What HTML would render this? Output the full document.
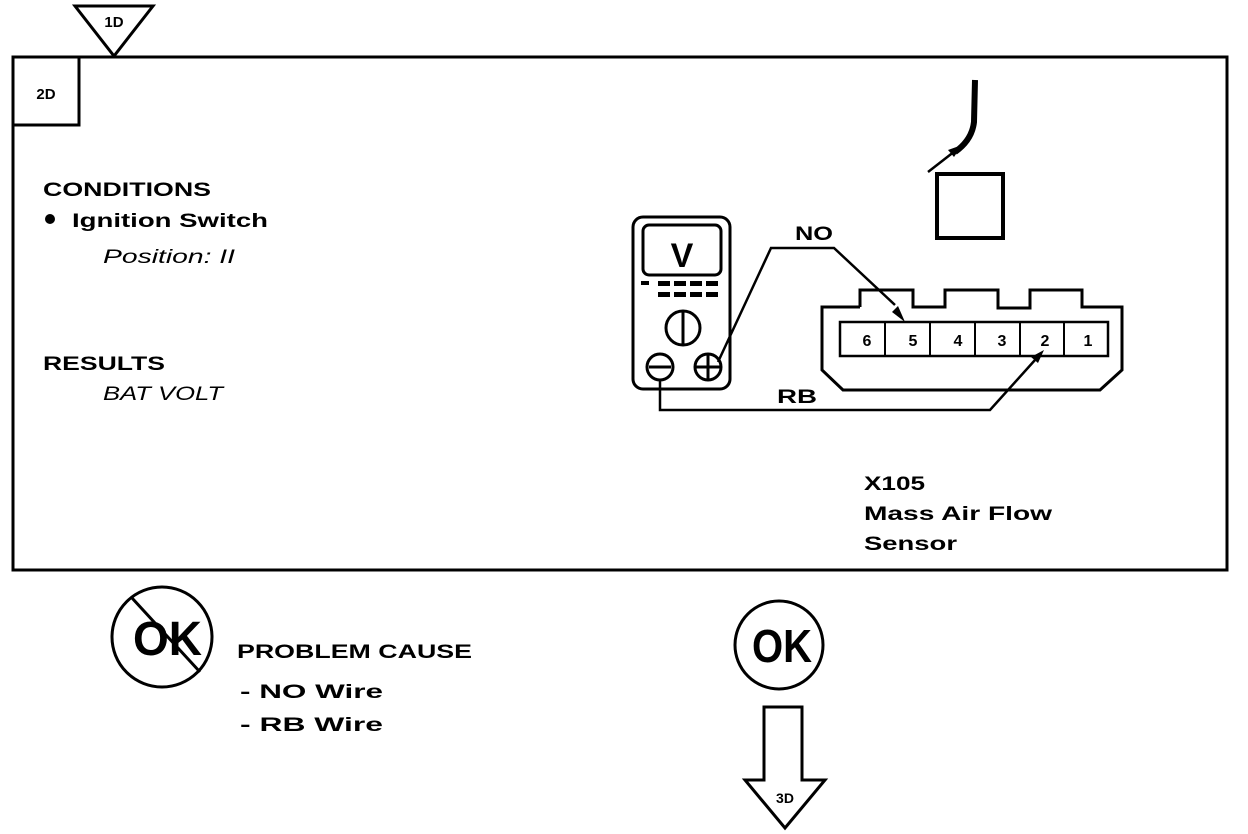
<!DOCTYPE html>
<html><head><meta charset="utf-8"><style>
html,body{margin:0;padding:0;background:#fff;}
svg{display:block;}
text{font-family:"Liberation Sans",sans-serif;fill:#000;}
.b{font-weight:bold;}
</style></head><body>
<svg width="1248" height="834" viewBox="0 0 1248 834" xmlns="http://www.w3.org/2000/svg">
<g fill="none" stroke="#000" stroke-width="3">
<rect x="13" y="57" width="1214" height="513"/>
<rect x="13" y="57" width="66" height="68"/>
<polygon points="75,6 153,6 114,56" fill="#fff"/>
</g>
<text x="114" y="27" font-size="15" class="b" text-anchor="middle">1D</text>
<text x="46" y="99" font-size="15" class="b" text-anchor="middle">2D</text>

<text x="43" y="196" font-size="19" class="b" textLength="168" lengthAdjust="spacingAndGlyphs">CONDITIONS</text>
<circle cx="50" cy="219" r="5" fill="#000"/>
<text x="72" y="227" font-size="19" class="b" textLength="196" lengthAdjust="spacingAndGlyphs">Ignition Switch</text>
<text x="103" y="263" font-size="19" font-style="italic" textLength="132" lengthAdjust="spacingAndGlyphs">Position: II</text>
<text x="43" y="370" font-size="19" class="b" textLength="122" lengthAdjust="spacingAndGlyphs">RESULTS</text>
<text x="103" y="400" font-size="19" font-style="italic" textLength="120" lengthAdjust="spacingAndGlyphs">BAT VOLT</text>

<g fill="none" stroke="#000" stroke-width="3">
<rect x="633" y="217" width="97" height="172" rx="10"/>
<rect x="643" y="225" width="78" height="50" rx="6"/>
<circle cx="683" cy="328" r="17"/>
<line x1="683" y1="311" x2="683" y2="345"/>
<circle cx="660" cy="367" r="13"/>
<line x1="649" y1="367" x2="671" y2="367"/>
<circle cx="708" cy="367" r="13"/>
<line x1="696" y1="367" x2="720" y2="367"/>
<line x1="708" y1="355" x2="708" y2="379"/>
<polyline points="718,362 771,248 834,248 895,305" stroke-width="2.5"/>
<polyline points="660,380 660,410 990,410 1035,360" stroke-width="2.5"/>
</g>
<g fill="#000">
<rect x="641" y="281" width="8" height="4"/>
<rect x="658" y="281" width="12" height="5"/><rect x="674" y="281" width="12" height="5"/><rect x="690" y="281" width="12" height="5"/><rect x="706" y="281" width="12" height="5"/>
<rect x="658" y="292" width="12" height="5"/><rect x="674" y="292" width="12" height="5"/><rect x="690" y="292" width="12" height="5"/><rect x="706" y="292" width="12" height="5"/>
<polygon points="905,322 892,312 898,306"/>
<polygon points="1044,350 1031,357 1038,363"/>
</g>
<text x="682" y="267" font-size="34" class="b" text-anchor="middle">V</text>
<text x="795" y="240" font-size="19" class="b" textLength="38" lengthAdjust="spacingAndGlyphs">NO</text>
<text x="777" y="403" font-size="19" class="b" textLength="40" lengthAdjust="spacingAndGlyphs">RB</text>

<g fill="none" stroke="#000" stroke-width="3">
<polyline points="860,307 822,307 822,370 843,390 1100,390 1122,370 1122,307 1082,307 1082,290 1030,290 1030,308 998,308 998,290 945,290 945,307 913,307 913,290 860,290 860,307"/>
<rect x="840" y="322" width="268" height="34" stroke-width="2.5"/>
</g>
<g stroke="#000" stroke-width="2">
<line x1="885" y1="322" x2="885" y2="356"/><line x1="930" y1="322" x2="930" y2="356"/>
<line x1="975" y1="322" x2="975" y2="356"/><line x1="1020" y1="322" x2="1020" y2="356"/>
<line x1="1064" y1="322" x2="1064" y2="356"/>
</g>
<g font-size="16" class="b" text-anchor="middle">
<text x="867" y="346">6</text><text x="913" y="346">5</text><text x="958" y="346">4</text>
<text x="1002" y="346">3</text><text x="1045" y="346">2</text><text x="1088" y="346">1</text>
</g>

<rect x="937" y="174" width="66" height="64" fill="none" stroke="#000" stroke-width="4"/>
<path d="M975,80 L974,122 Q972,140 955,152" fill="none" stroke="#000" stroke-width="6"/>
<line x1="928" y1="172" x2="955" y2="151" stroke="#000" stroke-width="2.5"/>
<polygon points="962,145 948,150 954,157" fill="#000"/>

<text x="864" y="490" font-size="19" class="b" textLength="61" lengthAdjust="spacingAndGlyphs">X105</text>
<text x="864" y="520" font-size="19" class="b" textLength="188" lengthAdjust="spacingAndGlyphs">Mass Air Flow</text>
<text x="864" y="550" font-size="19" class="b" textLength="93" lengthAdjust="spacingAndGlyphs">Sensor</text>

<circle cx="162" cy="637" r="50" fill="none" stroke="#000" stroke-width="3"/>
<text x="133" y="655" font-size="48" class="b" textLength="69" lengthAdjust="spacingAndGlyphs">OK</text>
<line x1="132" y1="598" x2="200" y2="672" stroke="#000" stroke-width="3"/>
<text x="237" y="658" font-size="19" class="b" textLength="235" lengthAdjust="spacingAndGlyphs">PROBLEM CAUSE</text>
<text x="240" y="698" font-size="19" class="b" textLength="143" lengthAdjust="spacingAndGlyphs">- NO  Wire</text>
<text x="240" y="731" font-size="19" class="b" textLength="143" lengthAdjust="spacingAndGlyphs">- RB  Wire</text>

<circle cx="779" cy="645" r="44" fill="none" stroke="#000" stroke-width="3"/>
<text x="752" y="662" font-size="46" class="b" textLength="60" lengthAdjust="spacingAndGlyphs">OK</text>
<polygon points="764,707 802,707 802,780 825,780 785,828 745,780 764,780" fill="none" stroke="#000" stroke-width="3"/>
<text x="785" y="803" font-size="14" class="b" text-anchor="middle">3D</text>
</svg>
</body></html>
